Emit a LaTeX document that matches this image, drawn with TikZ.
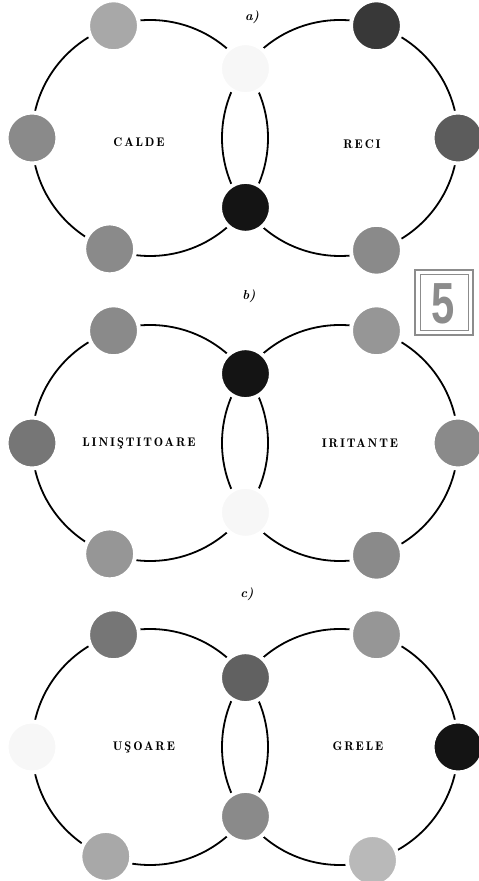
\documentclass[tikz,border=0pt]{standalone}
\usepackage{fontspec}
\usetikzlibrary{calc}
\newfontfamily\lblfont{lmromandemi10-regular}[Extension=.otf, LetterSpace=15]
\newfontfamily\numfont{Liberation Sans Bold}
\definecolor{dotpale}{HTML}{F7F7F7}
\definecolor{dotlight}{HTML}{A8A8A8}
\definecolor{dotsoft}{HTML}{969696}
\definecolor{dotmid}{HTML}{8A8A8A}
\definecolor{dotgrey}{HTML}{767676}
\definecolor{dotdark}{HTML}{5C5C5C}
\definecolor{dotdeep}{HTML}{383838}
\definecolor{dotblack}{HTML}{141414}
\definecolor{boxgrey}{HTML}{8C8C8C}

\begin{document}
\begin{tikzpicture}[x=1pt, y=1pt,
        ring/.style={line width=1.8pt},
        dot/.style={
          circle, draw=white, line width=4pt,
          minimum size=51pt, inner sep=0pt,
        },
        lbl/.style={font=\fontsize{12.5}{14}\selectfont\lblfont},
        tag/.style={font=\fontsize{13}{15}\selectfont\bfseries\itshape},
      ]
      \useasboundingbox[fill=white] (0,0) rectangle (479,881);

      % a)
      \node[tag] (taga) at (252,864) {a)};
      \coordinate (aL) at (150,743);
      \coordinate (aR) at (340,743);
      \draw[ring] (aL) circle[radius=118];
      \draw[ring] (aR) circle[radius=118];
      \node[dot, fill=dotlight] (aL1) at ($(aL)+(108:118)$) {};
      \node[dot, fill=dotmid]   (aL2) at ($(aL)+(180:118)$) {};
      \node[dot, fill=dotmid]   (aL3) at ($(aL)+(250:118)$) {};
      \node[dot, fill=dotpale]  (aT)  at ($(aL)+(36:118)$)  {};
      \node[dot, fill=dotblack] (aB)  at ($(aL)+(-36:118)$) {};
      \node[dot, fill=dotdeep]  (aR1) at ($(aR)+(72:118)$)  {};
      \node[dot, fill=dotdark]  (aR2) at ($(aR)+(0:118)$)   {};
      \node[dot, fill=dotmid]   (aR3) at ($(aR)+(-72:118)$) {};
      \node[lbl] (calde) at (139,739) {CALDE};
      \node[lbl] (reci)  at (362,737) {RECI};

      % b)
      \node[tag] (tagb) at (249,585) {b)};
      \coordinate (bL) at (150,438);
      \coordinate (bR) at (340,438);
      \draw[ring] (bL) circle[radius=118];
      \draw[ring] (bR) circle[radius=118];
      \node[dot, fill=dotmid]   (bL1) at ($(bL)+(108:118)$) {};
      \node[dot, fill=dotgrey]  (bL2) at ($(bL)+(180:118)$) {};
      \node[dot, fill=dotsoft]  (bL3) at ($(bL)+(250:118)$) {};
      \node[dot, fill=dotblack] (bT)  at ($(bL)+(36:118)$)  {};
      \node[dot, fill=dotpale]  (bB)  at ($(bL)+(-36:118)$) {};
      \node[dot, fill=dotsoft]  (bR1) at ($(bR)+(72:118)$)  {};
      \node[dot, fill=dotmid]   (bR2) at ($(bR)+(0:118)$)   {};
      \node[dot, fill=dotmid]   (bR3) at ($(bR)+(-72:118)$) {};
      \node[lbl] (calm)  at (139,438) {LINIŞTITOARE};
      \node[lbl] (irr)   at (360,438) {IRITANTE};

      % c)
      \node[tag] (tagc) at (247,287) {c)};
      \coordinate (cL) at (150,134);
      \coordinate (cR) at (340,134);
      \draw[ring] (cL) circle[radius=118];
      \draw[ring] (cR) circle[radius=118];
      \node[dot, fill=dotgrey]  (cL1) at ($(cL)+(108:118)$) {};
      \node[dot, fill=dotpale]  (cL2) at ($(cL)+(180:118)$) {};
      \node[dot, fill=dotlight] (cL3) at ($(cL)+(248:118)$) {};
      \node[dot, fill=dotdark!80!dotgrey] (cT) at ($(cL)+(36:118)$) {};
      \node[dot, fill=dotmid]   (cB)  at ($(cL)+(-36:118)$) {};
      \node[dot, fill=dotsoft]  (cR1) at ($(cR)+(72:118)$)  {};
      \node[dot, fill=dotblack] (cR2) at ($(cR)+(0:118)$)   {};
      \node[dot, fill=dotlight!80!white] (cR3) at ($(cR)+(-74:118)$) {};
      \node[lbl] (light) at (144,134) {UŞOARE};
      \node[lbl] (heavy) at (358,135) {GRELE};

      % plate number
      \draw[boxgrey, line width=2.5pt] (415,546) rectangle (473,611);
      \draw[boxgrey, line width=1pt] (420,550) rectangle (468,606);
      \node[text=boxgrey, inner sep=0pt] (plate) at (443.5,577)
        {\fontsize{58}{58}\selectfont\numfont\scalebox{0.72}[1]{5}};
    \end{tikzpicture}
\end{document}
